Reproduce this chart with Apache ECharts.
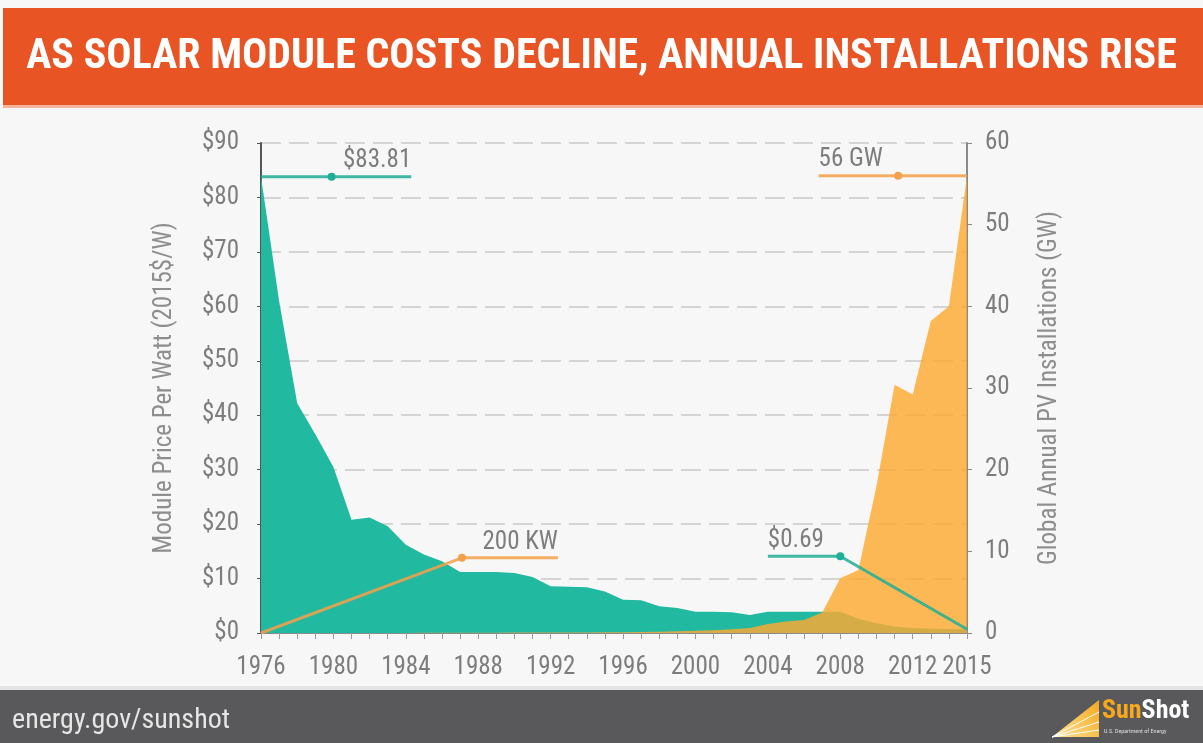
<!DOCTYPE html>
<html>
<head>
<meta charset="utf-8">
<script src="https://cdn.jsdelivr.net/npm/echarts@6/dist/echarts.min.js"></script>
<style>
  html, body { margin: 0; padding: 0; background: #fff; }
  #chart { width: 1203px; height: 743px; }
</style>
</head>
<body>
<div id="chart"></div>
<script>
// years on the x axis
const years = [1976, 1977, 1978, 1979, 1980, 1981, 1982, 1983, 1984, 1985,
  1986, 1987, 1988, 1989, 1990, 1991, 1992, 1993, 1994, 1995,
  1996, 1997, 1998, 1999, 2000, 2001, 2002, 2003, 2004, 2005,
  2006, 2007, 2008, 2009, 2010, 2011, 2012, 2013, 2014, 2015];
const yearLabels = [1976, 1980, 1984, 1988, 1992, 1996, 2000, 2004, 2008, 2012, 2015];

// module price, 2015$/W
const price = [83.81, 61, 42.2, 36.5, 30.5, 20.8, 21.2, 19.6, 16.2, 14.4,
  13.2, 11.2, 11.2, 11.2, 11.0, 10.3, 8.6, 8.5, 8.4, 7.6,
  6.1, 6.0, 4.9, 4.6, 3.9, 3.9, 3.8, 3.3, 3.9, 3.9,
  3.9, 3.9, 3.9, 2.6, 1.8, 1.2, 0.9, 0.8, 0.75, 0.69];

// global annual installations, GW
const installs = [0.0002, 0.0003, 0.0005, 0.001, 0.003, 0.005, 0.008, 0.012, 0.015, 0.02,
  0.025, 0.03, 0.035, 0.04, 0.046, 0.055, 0.058, 0.06, 0.07, 0.08,
  0.09, 0.12, 0.15, 0.2, 0.28, 0.33, 0.45, 0.6, 1.1, 1.4,
  1.6, 2.5, 6.7, 7.7, 18, 30.4, 29.2, 38.2, 40, 56];

// callouts: [year, value] points, the middle one gets the dot
const noteFirstPrice = [[1976, 83.81], [1979.9, 83.81], [1984.3, 83.81]];
const noteLastPrice = [[2004, 14.1], [2008, 14.1], [2015, 0.69]];
const noteFirstInstall = [[1976, 0.0002], [1987.1, 9.2], [1992.4, 9.2]];
const noteLastInstall = [[2006.8, 56], [2011.2, 56], [2015, 56]];

const FONT = "'Liberation Sans Narrow', 'Roboto Condensed', 'Open Sans', sans-serif";
const TEAL = '#22b9a1';
const ORANGE = '#fea932';
const GREY = '#7d7d7d';

const chart = echarts.init(document.getElementById('chart'));

// one callout line with a dot and a label
function note(points, axis, color, text, labelAt, align) {
  return {
    type: 'line',
    yAxisIndex: axis,
    z: 5,
    symbol: 'circle',
    showAllSymbol: true,
    lineStyle: { color: color, width: 3, opacity: 0.85 },
    itemStyle: { color: color },
    silent: true,
    data: points.map((p, i) => ({
      value: p,
      symbolSize: i === 1 ? 8 : 0,
      label: i === labelAt ? {
        show: true, formatter: text, position: 'top', align: align, distance: 3,
        color: GREY, fontFamily: FONT, fontSize: 25
      } : { show: false }
    }))
  };
}

const option = {
  animation: false,
  backgroundColor: '#f7f7f7',
  grid: { left: 261, right: 236, top: 143, bottom: 110 },
  xAxis: {
    type: 'value', min: 1976, max: 2015,
    axisLine: { show: true, lineStyle: { color: '#8a8a8a', width: 2 } },
    axisTick: { show: true, customValues: years, length: 6, lineStyle: { color: '#9a9a9a' } },
    axisLabel: {
      customValues: yearLabels, formatter: v => String(v),
      color: GREY, fontFamily: FONT, fontSize: 25, margin: 22
    },
    splitLine: { show: false }
  },
  yAxis: [{
    type: 'value', min: 0, max: 90, interval: 10, position: 'left',
    name: 'Module Price Per Watt (2015$/W)', nameLocation: 'middle', nameRotate: 90, nameGap: 84,
    nameTextStyle: { color: '#8e8e8e', fontFamily: FONT, fontSize: 25 },
    axisLine: { show: true, lineStyle: { color: '#555', width: 2 } },
    axisTick: { show: true, length: 4, lineStyle: { color: '#555' } },
    axisLabel: { formatter: v => '$' + v, color: GREY, fontFamily: FONT, fontSize: 25, margin: 22 },
    splitLine: { show: true, lineStyle: { color: '#d4d4d4', width: 2, type: [20, 8] } }
  }, {
    type: 'value', min: 0, max: 60, interval: 10, position: 'right',
    name: 'Global Annual PV Installations (GW)', nameLocation: 'middle', nameRotate: 90, nameGap: 70,
    nameTextStyle: { color: '#8e8e8e', fontFamily: FONT, fontSize: 25 },
    axisLine: { show: true, lineStyle: { color: '#8a8a8a', width: 2 } },
    axisTick: { show: true, length: 5, lineStyle: { color: '#8a8a8a' } },
    axisLabel: { color: GREY, fontFamily: FONT, fontSize: 25, margin: 18 },
    splitLine: { show: false }
  }],
  series: [{
    name: 'price', type: 'line', yAxisIndex: 0, z: 2,
    symbol: 'none', lineStyle: { width: 0 },
    areaStyle: { color: TEAL, opacity: 1 },
    data: years.map((y, i) => [y, price[i]])
  }, {
    name: 'installs', type: 'line', yAxisIndex: 1, z: 3,
    symbol: 'none', lineStyle: { width: 0 },
    areaStyle: { color: ORANGE, opacity: 0.82 },
    data: years.map((y, i) => [y, installs[i]])
  },
  note(noteFirstPrice, 0, '#1fae97', '$83.81', 2, 'right'),
  note(noteLastPrice, 0, '#1fae97', '$0.69', 0, 'left'),
  note(noteFirstInstall, 1, '#f5a04a', '200 KW', 2, 'right'),
  note(noteLastInstall, 1, '#f5a04a', '56 GW', 0, 'left')
  ],
  graphic: [
    // title band
    { type: 'rect', left: 3, top: 8, shape: { width: 1200, height: 97 }, style: { fill: '#e85423' } },
    { type: 'rect', left: 3, top: 105, shape: { width: 1200, height: 3 }, style: { fill: '#f2b49c' } },
    {
      type: 'text', left: 'center', top: 36,
      style: { text: 'AS SOLAR MODULE COSTS DECLINE, ANNUAL INSTALLATIONS RISE',
        fill: '#fff', font: 'bold 42px ' + FONT }
    },
    // footer band
    { type: 'rect', left: 0, top: 686, shape: { width: 1203, height: 4 }, style: { fill: '#e4e4e4' } },
    { type: 'rect', left: 0, top: 690, shape: { width: 1203, height: 53 }, style: { fill: '#59595b' } },
    {
      type: 'text', left: 12, top: 707,
      style: { text: 'energy.gov/sunshot', fill: '#e6e6e6', font: '28px ' + FONT }
    },
    // SunShot logo
    {
      type: 'polygon', shape: { points: [[1052, 737], [1099, 700], [1099, 737]] },
      style: { fill: new echarts.graphic.LinearGradient(0, 1, 1, 0, [
        { offset: 0, color: '#fbe6a0' }, { offset: 1, color: '#f7a81b' }]) }
    },
    { type: 'line', shape: { x1: 1052, y1: 737, x2: 1099, y2: 712 }, style: { stroke: '#fff', lineWidth: 1 } },
    { type: 'line', shape: { x1: 1052, y1: 737, x2: 1099, y2: 722 }, style: { stroke: '#fff', lineWidth: 1 } },
    { type: 'line', shape: { x1: 1052, y1: 737, x2: 1099, y2: 730 }, style: { stroke: '#fff', lineWidth: 1 } },
    {
      type: 'text', left: 1102, top: 698,
      style: {
        text: '{a|Sun}{b|Shot}',
        rich: {
          a: { fill: '#f7a81b', fontFamily: FONT, fontSize: 26, fontWeight: 'bold' },
          b: { fill: '#ffffff', fontFamily: FONT, fontSize: 26, fontWeight: 'bold' }
        }
      }
    },
    {
      type: 'text', left: 1104, top: 728,
      style: { text: 'U.S. Department of Energy', fill: '#dddddd', font: '6px ' + FONT }
    }
  ]
};

chart.setOption(option);
</script>
</body>
</html>
